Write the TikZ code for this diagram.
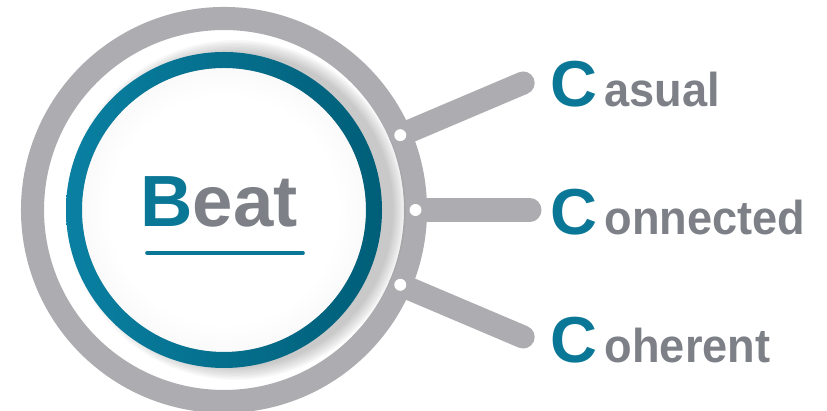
\documentclass[tikz,border=0pt]{standalone}
\usepackage{fontspec}
\setmainfont{Liberation Sans}
\newfontfamily\tailfont[FakeStretch=0.95]{Liberation Sans}
\usepackage{xcolor}
\usepackage{tikz}
\usetikzlibrary{positioning, calc}
\definecolor{beatteal}{HTML}{0B7797}
\definecolor{beattealhi}{HTML}{0A80A2}
\definecolor{beattealdark}{HTML}{005E78}
\definecolor{ringgray}{HTML}{ADACB0}
\definecolor{wordgray}{HTML}{7E8088}
\definecolor{diskgray}{HTML}{E0E0E3}
\pgfdeclareradialshading{diskglow}{\pgfpoint{0bp}{0bp}}{%
  color(0bp)=(white); color(20bp)=(white);
  color(50bp)=(diskgray); color(72bp)=(diskgray)}
\tikzset{
  ringline/.style={
    draw=ringgray, line width=16.4pt
  },
  spokeline/.style={
    draw=ringgray, line width=16.4pt, line cap=round
  },
  pindot/.style={
    circle, fill=white, minimum size=8.5pt, inner sep=0pt
  },
  beatword/.style={
    font=\fontsize{51.6}{52}\selectfont\bfseries, text=wordgray,
    inner sep=0pt, anchor=base west
  },
  beatrule/.style={
    draw=beatteal, line width=2.6pt, line cap=round
  },
  capletter/.style={
    font=\fontsize{46.2}{46}\selectfont\bfseries, text=beatteal,
    inner sep=0pt, anchor=base west
  },
  wordtail/.style={
    font=\tailfont\fontsize{33.8}{34}\selectfont\bfseries, text=wordgray,
    inner sep=0pt, anchor=base west
  },
}

\begin{document}
\begin{tikzpicture}[x=0.025cm, y=0.025cm]
  \useasboundingbox (0,0) rectangle (827,411);

  % ── Hub and spoke ends ─────────────────────────────────────────
  \coordinate (hub) at (224,201);
  \coordinate (pin1) at ($(hub)+(23:191.5)$);
  \coordinate (pin2) at ($(hub)+(0:191.5)$);
  \coordinate (pin3) at ($(hub)+(-23:191.5)$);
  \coordinate (tip1) at ($(hub)+(23:325)$);
  \coordinate (tip2) at ($(hub)+(0:306)$);
  \coordinate (tip3) at ($(hub)+(-23:325)$);

  % ── Spokes ─────────────────────────────────────────────────────
  \draw[spokeline] (pin1) -- (tip1);
  \draw[spokeline] (pin2) -- (tip2);
  \draw[spokeline] (pin3) -- (tip3);

  % ── Outer gray ring ────────────────────────────────────────────
  \draw[ringline] (hub) circle (191.5);
  \node[pindot] (dot1) at (pin1) {};
  \node[pindot] (dot2) at (pin2) {};
  \node[pindot] (dot3) at (pin3) {};

  % ── Soft shadow to the right of the teal ring ──────────────────
  \foreach \k in {1,...,10}
    \fill[black, opacity=0.022] ($(hub)+(12,0)$) circle ({156+1.4*\k});

  % ── Disk and teal ring ─────────────────────────────────────────
  \shade[shading=diskglow] (hub) circle (142);
  \shade[even odd rule, left color=beattealhi, right color=beattealdark]
    (hub) circle (158) circle (142);

  % ── Centre word ────────────────────────────────────────────────
  \node[beatword] (beat) at (140,184) {{\color{beatteal}B}eat};
  \draw[beatrule] ($(beat.base west)+(7,-26)$) -- ($(beat.base west)+(163,-26)$);

  % ── Three C words ──────────────────────────────────────────────
  \node[capletter] (casC) at (550,304) {C};
  \node[wordtail] (casW) at ($(casC.base east)+(7,0)$) {asual};

  \node[capletter] (conC) at (550,176) {C};
  \node[wordtail] (conW) at ($(conC.base east)+(7,0)$) {onnected};

  \node[capletter] (cohC) at (550,48) {C};
  \node[wordtail] (cohW) at ($(cohC.base east)+(7,0)$) {oherent};
\end{tikzpicture}
\end{document}
